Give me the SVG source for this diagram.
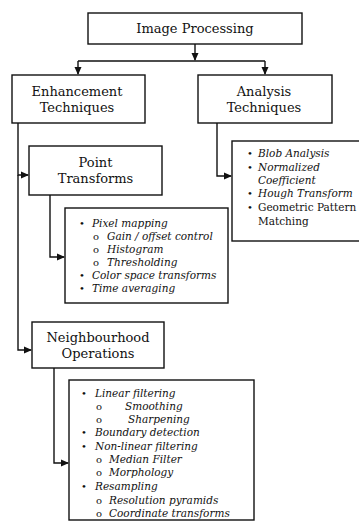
<svg xmlns="http://www.w3.org/2000/svg" width="359" height="524" viewBox="0 0 359 524">
<style>
.box{fill:#fff;stroke:#111;stroke-width:1.4}
.ln{fill:none;stroke:#111;stroke-width:1.4}
.t{font-family:"DejaVu Serif",serif;font-size:13px;fill:#111;text-anchor:middle}
.li{font-family:"DejaVu Serif",serif;font-size:10.5px;font-style:italic;fill:#111}
.up{font-family:"DejaVu Serif",serif;font-size:10.5px;fill:#111}
.b{font-family:"DejaVu Serif",serif;font-size:10px;fill:#111}
</style>
<defs>
<marker id="ah" markerWidth="8" markerHeight="8" refX="7" refY="4" orient="auto" markerUnits="userSpaceOnUse">
<path d="M0,0.5 L8,4 L0,7.5 Z" fill="#111"/>
</marker>
</defs>
<rect width="359" height="524" fill="#fff"/>
<g id="connectors">
<path class="ln" d="M195,44 V60" marker-end="url(#ah)"/>
<path class="ln" d="M78,61 H265"/>
<path class="ln" d="M78,61 V74" marker-end="url(#ah)"/>
<path class="ln" d="M265,61 V74" marker-end="url(#ah)"/>
<path class="ln" d="M18,123 V175 H28" marker-end="url(#ah)"/>
<path class="ln" d="M18,175 V350 H31" marker-end="url(#ah)"/>
<path class="ln" d="M217,123 V176 H231" marker-end="url(#ah)"/>
<path class="ln" d="M50,195 V257 H64" marker-end="url(#ah)"/>
<path class="ln" d="M54,368 V463 H68" marker-end="url(#ah)"/>
</g>
<g id="image-processing">
<rect class="box" x="88" y="13" width="214" height="31"/>
<text class="t" x="195" y="33">Image Processing</text>
</g>
<g id="enhancement">
<rect class="box" x="12" y="75" width="133" height="48"/>
<text class="t" x="77" y="96">Enhancement</text>
<text class="t" x="77" y="112">Techniques</text>
</g>
<g id="analysis">
<rect class="box" x="198" y="75" width="134" height="48"/>
<text class="t" x="264" y="96">Analysis</text>
<text class="t" x="264" y="112">Techniques</text>
</g>
<g id="point-transforms">
<rect class="box" x="29" y="146" width="133" height="49"/>
<text class="t" x="95.5" y="167">Point</text>
<text class="t" x="95.5" y="183">Transforms</text>
</g>
<g id="analysis-list">
<rect class="box" x="232" y="141" width="128" height="100"/>
<text class="b" x="247" y="157">•</text><text class="li" x="258" y="157">Blob Analysis</text>
<text class="b" x="247" y="171">•</text><text class="li" x="258" y="171">Normalized</text>
<text class="li" x="258" y="184">Coefficient</text>
<text class="b" x="247" y="197">•</text><text class="li" x="258" y="197">Hough Transform</text>
<text class="b" x="247" y="211">•</text><text class="up" x="258" y="211">Geometric Pattern</text>
<text class="up" x="258" y="225">Matching</text>
</g>
<g id="point-list">
<rect class="box" x="65" y="208" width="163" height="95"/>
<text class="b" x="79" y="227">•</text><text class="li" x="92" y="227">Pixel mapping</text>
<text class="b" x="93" y="240">o</text><text class="li" x="107" y="240">Gain / offset control</text>
<text class="b" x="93" y="253">o</text><text class="li" x="107" y="253">Histogram</text>
<text class="b" x="93" y="266">o</text><text class="li" x="107" y="266">Thresholding</text>
<text class="b" x="79" y="279">•</text><text class="li" x="92" y="279">Color space transforms</text>
<text class="b" x="79" y="292">•</text><text class="li" x="92" y="292">Time averaging</text>
</g>
<g id="neighbourhood">
<rect class="box" x="32" y="322" width="132" height="46"/>
<text class="t" x="98" y="342">Neighbourhood</text>
<text class="t" x="98" y="358">Operations</text>
</g>
<g id="neighbourhood-list">
<rect class="box" x="69" y="380" width="185" height="140"/>
<text class="b" x="81" y="397">•</text><text class="li" x="95" y="397">Linear filtering</text>
<text class="b" x="96" y="410">o</text><text class="li" x="125" y="410">Smoothing</text>
<text class="b" x="96" y="423">o</text><text class="li" x="128" y="423">Sharpening</text>
<text class="b" x="81" y="436">•</text><text class="li" x="95" y="436">Boundary detection</text>
<text class="b" x="81" y="450">•</text><text class="li" x="95" y="450">Non-linear filtering</text>
<text class="b" x="96" y="463">o</text><text class="li" x="109" y="463">Median Filter</text>
<text class="b" x="96" y="476">o</text><text class="li" x="109" y="476">Morphology</text>
<text class="b" x="81" y="490">•</text><text class="li" x="95" y="490">Resampling</text>
<text class="b" x="96" y="504">o</text><text class="li" x="109" y="504">Resolution pyramids</text>
<text class="b" x="96" y="517">o</text><text class="li" x="109" y="517">Coordinate transforms</text>
</g>
</svg>
